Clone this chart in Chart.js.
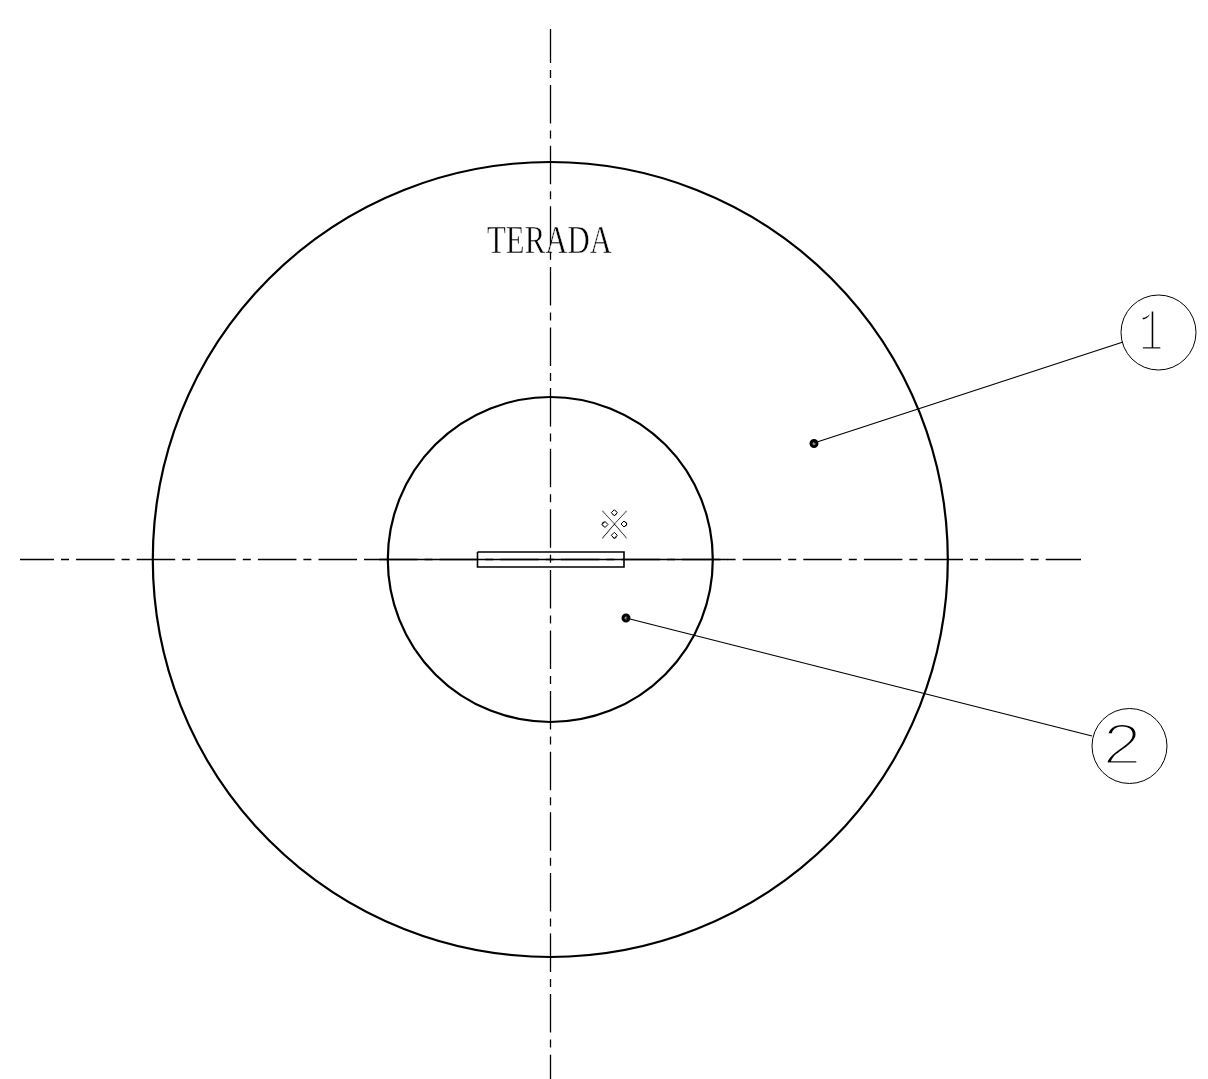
<!DOCTYPE html>
<html>
<head>
<meta charset="utf-8">
<title>TERADA</title>
<script src="https://cdn.jsdelivr.net/npm/chart.js"></script>
<style>
    html, body { margin: 0; padding: 0; background: #fff; }
    canvas { display: block; }
</style>
</head>
<body>
<canvas id="desenho" width="1208" height="1079"></canvas>
<script>
// drawing values, in sheet units
const centerHoriz = [{ x: 20, y: 559.5 }, { x: 1081, y: 559.5 }];
const centerVert = [{ x: 550.5, y: 29 }, { x: 550.5, y: 1079 }];
const solidCenter = [{ x: 372, y: 559.5 }, { x: 728, y: 559.5 }];
const slot = [
    { x: 477.5, y: 552 }, { x: 624, y: 552 }, { x: 624, y: 567 },
    { x: 477.5, y: 567 }, { x: 477.5, y: 552 }
];
const discCenter = [{ x: 550.3, y: 559.5 }];
const balloon1Center = [{ x: 1158.5, y: 332.5 }];
const balloon2Center = [{ x: 1129.5, y: 746 }];
const leader1 = [{ x: 814, y: 443 }, { x: 1123, y: 342 }];
const leader2 = [{ x: 626, y: 618 }, { x: 1092, y: 736 }];
const leaderDots = [{ x: 814, y: 443.5 }, { x: 626, y: 618 }];
const markDots = [{ x: 614.3, y: 512.7 }, { x: 605, y: 524.5 }, { x: 624, y: 524 }, { x: 614.3, y: 535.3 }];

const labelTexts = ["TERADA", "1", "2", "※"];
const labelX = [549.5, 1151, 1122, 614.5];
const labelY = [242, 334, 748, 524];

function linha(data, extra) {
    return Object.assign({
        type: "scatter",
        data: data,
        showLine: true,
        pointRadius: 0,
        borderColor: "#000",
        borderWidth: 1.3,
        fill: false,
        tension: 0,
        clip: false
    }, extra);
}

function circulo(data, raio, largura) {
    return {
        type: "scatter",
        data: data,
        showLine: false,
        pointRadius: raio,
        pointHoverRadius: raio,
        pointBackgroundColor: "transparent",
        pointBorderColor: "#000",
        pointBorderWidth: largura,
        clip: false
    };
}

// Textos do desenho, por baixo das linhas; o contorno branco afina as letras
const textosPlugin = {
    id: "textos",
    beforeDatasetsDraw(chart) {
        const ctx = chart.ctx;
        const estilos = [
            { font: "40px 'Liberation Serif'", sx: 0.77, sy: 1, afina: 0.5 },
            { font: "62px 'Liberation Mono'", sx: 0.66, sy: 1, afina: 3 },
            { font: "62px 'Liberation Mono'", sx: 1.12, sy: 1, afina: 3 },
            { font: "36px 'Noto Sans CJK JP'", sx: 1, sy: 1.15, afina: 0.8 }
        ];
        labelTexts.forEach((t, i) => {
            const e = estilos[i];
            ctx.save();
            ctx.translate(chart.scales.x.getPixelForValue(labelX[i]), chart.scales.y.getPixelForValue(labelY[i]));
            ctx.scale(e.sx, e.sy);
            ctx.font = e.font;
            ctx.fillStyle = "#000";
            ctx.textAlign = "center";
            ctx.textBaseline = "middle";
            ctx.fillText(t, 0, 0);
            if (e.afina > 0) {
                ctx.strokeStyle = "#fff";
                ctx.lineWidth = e.afina;
                ctx.strokeText(t, 0, 0);
            }
            ctx.restore();
        });
    }
};

new Chart(document.getElementById("desenho").getContext("2d"), {
    type: "scatter",
    data: {
        datasets: [
            linha(centerHoriz, { borderDash: [38.5, 7, 8, 7.1], borderDashOffset: 4.5 }),
            linha(centerVert, { borderDash: [38.5, 7, 8, 7.1], borderDashOffset: 4.5 }),
            linha(solidCenter),
            linha(slot, { borderWidth: 1.6 }),
            linha(leader1, { borderWidth: 1.2 }),
            linha(leader2, { borderWidth: 1.2 }),
            circulo(discCenter, 397.5, 2.2),
            circulo(discCenter, 162.5, 2.2),
            circulo(balloon1Center, 37.5, 1),
            circulo(balloon2Center, 37.5, 1),
            {
                type: "scatter",
                data: leaderDots,
                showLine: false,
                pointRadius: 3,
                pointBackgroundColor: "#999",
                pointBorderColor: "#000",
                pointBorderWidth: 3
            },
            {
                type: "scatter",
                data: markDots,
                showLine: false,
                pointStyle: "rectRot",
                pointRadius: 3,
                pointBackgroundColor: "#fff",
                pointBorderColor: "#000",
                pointBorderWidth: 1
            }
        ]
    },
    options: {
        responsive: false,
        animation: false,
        layout: { padding: 0, autoPadding: false },
        plugins: { legend: { display: false }, tooltip: { enabled: false } },
        scales: {
            x: { type: "linear", min: 0, max: 1208, display: false },
            y: { type: "linear", min: 0, max: 1079, reverse: true, display: false }
        }
    },
    plugins: [textosPlugin]
});
</script>
</body>
</html>
